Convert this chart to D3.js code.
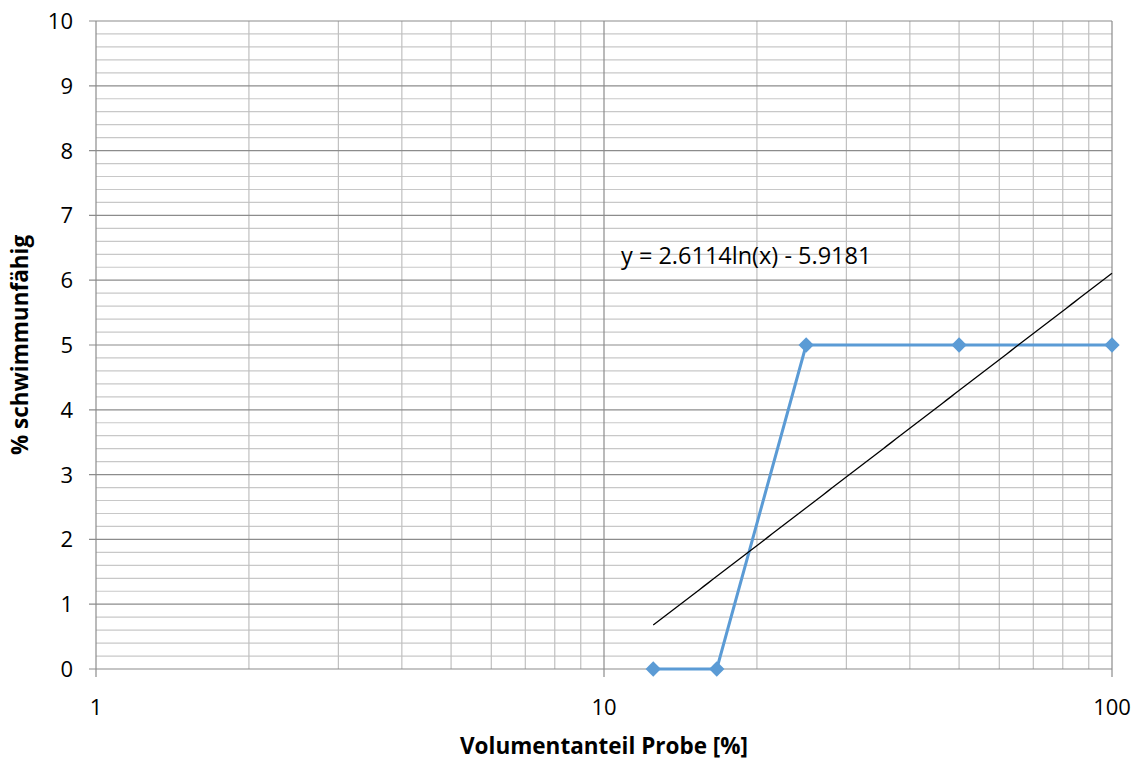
<!DOCTYPE html>
<html>
<head>
<meta charset="utf-8">
<script src="https://cdn.jsdelivr.net/npm/d3@7"></script>
<style>
  html, body { margin: 0; padding: 0; background: #fff; }
  svg text { font-family: "Open Sans", Lato, sans-serif; fill: #000; }
</style>
</head>
<body>
<svg id="chart" width="1142" height="761"></svg>
<script>
// Volume share of sample [%] and percent of immobile organisms
const volumeShare = [12.5, 16.67, 25, 50, 100];
const immobilePct = [0, 0, 5, 5, 5];
const xTickLabels = [1, 10, 100];
const yTickLabels = [0, 1, 2, 3, 4, 5, 6, 7, 8, 9, 10];
// Logarithmic trend fit: y = a ln(x) + b
const trendCoef = [2.6114, -5.9181];
const trendLabel = "y = 2.6114ln(x) - 5.9181";

const svg = d3.select("#chart");
const margin = { left: 96, right: 30, top: 21, bottom: 92 };
const W = 1142, H = 761;

const x = d3.scaleLog().domain([1, 100]).range([margin.left, W - margin.right]);
const y = d3.scaleLinear().domain([0, 10]).range([H - margin.bottom, margin.top]);

const g = svg.append("g");

// Minor horizontal grid (every 0.2)
const minorY = d3.range(0, 10.001, 0.2).filter(v => Math.abs(v - Math.round(v)) > 1e-6);
g.selectAll("line.minorY").data(minorY).join("line")
  .attr("x1", x(1)).attr("x2", x(100))
  .attr("y1", d => y(d)).attr("y2", d => y(d))
  .attr("stroke", "#c8c8c8").attr("stroke-width", 1.2);

// Minor vertical grid (2..9 per decade)
const minorX = [];
[1, 10].forEach(dec => { for (let k = 2; k <= 9; k++) minorX.push(dec * k); });
g.selectAll("line.minorX").data(minorX).join("line")
  .attr("x1", d => x(d)).attr("x2", d => x(d))
  .attr("y1", y(0)).attr("y2", y(10))
  .attr("stroke", "#c0c0c0").attr("stroke-width", 1.2);

// Major horizontal grid
g.selectAll("line.majorY").data(yTickLabels).join("line")
  .attr("x1", x(1) - 7).attr("x2", x(100))
  .attr("y1", d => y(d)).attr("y2", d => y(d))
  .attr("stroke", "#8c8c8c").attr("stroke-width", 1.2);

// Major vertical grid
g.selectAll("line.majorX").data(xTickLabels).join("line")
  .attr("x1", d => x(d)).attr("x2", d => x(d))
  .attr("y1", y(0) + 8).attr("y2", y(10))
  .attr("stroke", "#8c8c8c").attr("stroke-width", 1.2);

// Y tick labels
g.selectAll("text.yt").data(yTickLabels).join("text")
  .attr("x", 73).attr("y", d => y(d))
  .attr("dy", "0.36em").attr("text-anchor", "end")
  .attr("font-size", 22).text(d => d);

// X tick labels
g.selectAll("text.xt").data(xTickLabels).join("text")
  .attr("x", d => x(d)).attr("y", 715)
  .attr("text-anchor", "middle")
  .attr("font-size", 22).text(d => d);

// Axis titles
svg.append("text")
  .attr("x", (x(1) + x(100)) / 2).attr("y", 754)
  .attr("text-anchor", "middle").attr("font-size", 22.5).attr("font-weight", "bold")
  .text("Volumentanteil Probe [%]");
svg.append("text")
  .attr("transform", `translate(28, ${(y(0) + y(10)) / 2}) rotate(-90)`)
  .attr("text-anchor", "middle").attr("font-size", 22.5).attr("font-weight", "bold")
  .text("% schwimmunfähig");

// Data series
const pts = volumeShare.map((v, i) => [v, immobilePct[i]]);
g.append("path").datum(pts)
  .attr("fill", "none").attr("stroke", "#5b9bd5").attr("stroke-width", 3)
  .attr("stroke-linejoin", "round")
  .attr("d", d3.line().x(d => x(d[0])).y(d => y(d[1])));

g.selectAll("path.mk").data(pts).join("path")
  .attr("transform", d => `translate(${x(d[0])},${y(d[1])})`)
  .attr("d", d3.symbol().type(d3.symbolDiamond2).size(150))
  .attr("fill", "#5b9bd5");

// Logarithmic trend line over the data range
const xs = d3.range(0, 101).map(i => Math.exp(Math.log(volumeShare[0]) + i / 100 * (Math.log(100) - Math.log(volumeShare[0]))));
g.append("path").datum(xs)
  .attr("fill", "none").attr("stroke", "#000").attr("stroke-width", 1.3)
  .attr("d", d3.line().x(d => x(d)).y(d => y(trendCoef[0] * Math.log(d) + trendCoef[1])));

g.append("text")
  .attr("x", 621).attr("y", 264)
  .attr("font-size", 23.5).text(trendLabel);
</script>
</body>
</html>
